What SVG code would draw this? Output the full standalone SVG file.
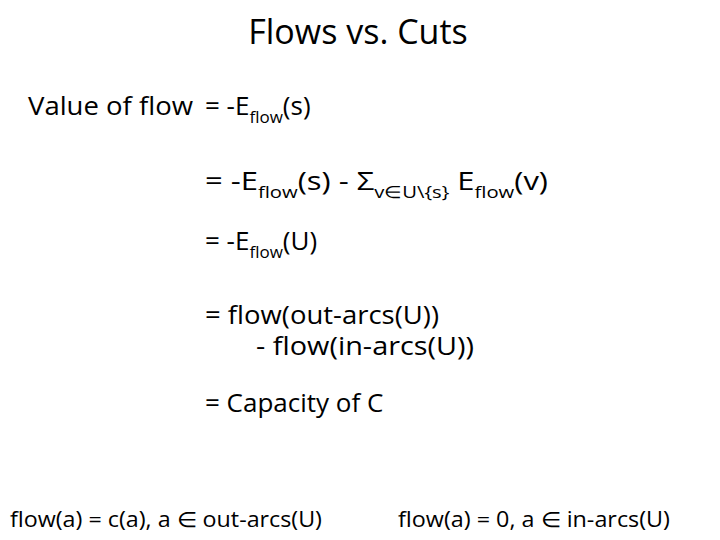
<svg xmlns="http://www.w3.org/2000/svg" width="720" height="540" viewBox="0 0 720 540">
<style>
text{font-family:"Open Sans","Liberation Sans",sans-serif;fill:#000}
.t{font-size:34px}
.b{font-size:26px}
.s{font-size:17px}
.f{font-size:21px}
</style>
<rect width="720" height="540" fill="#fff"/>
<g id="title"><text class="t" x="358" y="44" text-anchor="middle">Flows vs. Cuts</text></g>
<g id="body">
<text class="b" x="28" y="115" textLength="165" lengthAdjust="spacingAndGlyphs">Value of flow</text>
<text class="b" x="205" y="115">= -E<tspan class="s" dy="8">flow</tspan><tspan dy="-8">(s)</tspan></text>
<text class="b" x="205" y="190" textLength="343" lengthAdjust="spacingAndGlyphs">= -E<tspan class="s" dy="8">flow</tspan><tspan dy="-8">(s) - Σ</tspan><tspan class="s" dy="8">v∈U\{s}</tspan><tspan dy="-8"> E</tspan><tspan class="s" dy="8">flow</tspan><tspan dy="-8">(v)</tspan></text>
<text class="b" x="205" y="250">= -E<tspan class="s" dy="8">flow</tspan><tspan dy="-8">(U)</tspan></text>
<text class="b" x="205" y="324" textLength="234" lengthAdjust="spacingAndGlyphs">= flow(out-arcs(U))</text>
<text class="b" x="256" y="355" textLength="218" lengthAdjust="spacingAndGlyphs">- flow(in-arcs(U))</text>
<text class="b" x="205" y="412">= Capacity of C</text>
<text class="f" x="10" y="527" textLength="312" lengthAdjust="spacingAndGlyphs">flow(a) = c(a), a ∈ out-arcs(U)</text>
<text class="f" x="398" y="527" textLength="272" lengthAdjust="spacingAndGlyphs">flow(a) = 0, a ∈ in-arcs(U)</text>
</g>
</svg>
